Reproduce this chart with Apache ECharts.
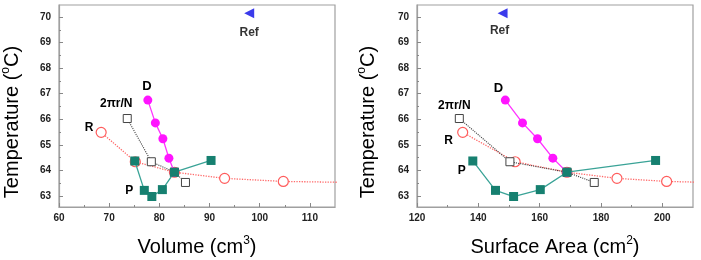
<!DOCTYPE html>
<html><head><meta charset="utf-8">
<script src="https://cdn.jsdelivr.net/npm/echarts@6/dist/echarts.min.js"></script>
<style>html,body{margin:0;padding:0;background:#fff}#c{width:701px;height:260px}</style>
</head><body><div id="c"></div>
<script>
// ---- data ----
const volTicks = [60, 70, 80, 90, 100, 110];
const volMinor = [65, 75, 85, 95, 105];
const areaTicks = [120, 140, 160, 180, 200];
const areaMinor = [130, 150, 170, 190];
const tempTicks = [63, 64, 65, 66, 67, 68, 69, 70];
const tempMinor = [63.5, 64.5, 65.5, 66.5, 67.5, 68.5, 69.5];

const refVol = [97.9];
const refArea = [147.9];
const refTemp = [70.15];

const dVol = [77.7, 79.2, 80.7, 81.9, 83.0];
const dArea = [148.8, 154.4, 159.3, 164.3, 168.9];
const dTemp = [66.75, 65.86, 65.24, 64.48, 63.93];

const pVol = [75.1, 77.0, 78.5, 80.6, 83.0, 90.3];
const pArea = [138.2, 145.6, 151.5, 160.2, 168.9, 197.8];
const pTemp = [64.37, 63.22, 62.98, 63.25, 63.93, 64.39];

const rVol = [68.4, 75.2, 83.0, 93.0, 104.7, 118];
const rArea = [134.9, 152.0, 168.9, 185.2, 201.4, 215];
const rTemp = [65.49, 64.34, 63.93, 63.69, 63.57, 63.53];

const nVol = [73.6, 78.4, 83.0, 85.2];
const nArea = [133.8, 150.3, 168.9, 177.8];
const nTemp = [66.03, 64.34, 63.93, 63.53];

// ---- build ----
const FONT = 'Liberation Sans, Arial, sans-serif';
const FRAME = '#a0a0a0';
function pts(xs, ys, li, txt, off, fs) {
  return xs.map((x, i) => {
    const d = { value: [x, ys[i]] };
    if (i === li) d.label = { show: true, formatter: txt, position: 'inside', offset: off,
      fontFamily: FONT, fontWeight: 'bold', fontSize: fs || 12, color: '#000',
      textBorderWidth: 0 };
    return d;
  });
}
function mainX(gi, min, max, ticks) {
  return { type: 'value', gridIndex: gi, min, max, splitLine: { show: false },
    axisLine: { lineStyle: { color: FRAME, width: 1.2 } },
    axisTick: { inside: true, length: 4, customValues: ticks, lineStyle: { color: '#888' } },
    axisLabel: { customValues: ticks, fontFamily: FONT, fontWeight: 'bold', fontSize: 10, color: '#222', margin: 6 } };
}
function minorX(gi, min, max, ticks) {
  return { type: 'value', gridIndex: gi, min, max, position: 'bottom', splitLine: { show: false },
    axisLine: { show: false },
    axisTick: { inside: true, length: 2, customValues: ticks, lineStyle: { color: '#888' } },
    axisLabel: { show: false } };
}
function mainY(gi) {
  return { type: 'value', gridIndex: gi, min: 62.57, max: 70.47, splitLine: { show: false },
    axisLine: { show: true, lineStyle: { color: FRAME, width: 1.2 } },
    axisTick: { show: true, inside: true, length: 4, customValues: tempTicks, lineStyle: { color: '#888' } },
    axisLabel: { customValues: tempTicks, fontFamily: FONT, fontWeight: 'bold', fontSize: 10, color: '#222', margin: 8 } };
}
function minorY(gi) {
  return { type: 'value', gridIndex: gi, min: 62.57, max: 70.47, position: 'left', splitLine: { show: false },
    axisLine: { show: false },
    axisTick: { show: true, inside: true, length: 2, customValues: tempMinor, lineStyle: { color: '#888' } },
    axisLabel: { show: false } };
}
function seriesFor(ax, xs) {
  const [ref, d, p, r, n, L] = xs;
  return [
    { type: 'line', xAxisIndex: ax, yAxisIndex: ax, data: pts(r, rTemp, 0, 'R', L.r), symbol: 'circle', symbolSize: 10,
      itemStyle: { color: '#fff', borderColor: '#ff5c5c', borderWidth: 1.2 },
      lineStyle: { color: '#ff6a6a', width: 1.3, type: 'dotted' }, z: 2, clip: true },
    { type: 'line', xAxisIndex: ax, yAxisIndex: ax, data: pts(n, nTemp, 0, '2\u03C0r/N', L.n), symbol: 'rect', symbolSize: 8,
      itemStyle: { color: '#fff', borderColor: '#444', borderWidth: 1 },
      lineStyle: { color: '#444', width: 1.1, type: 'dotted' }, z: 3 },
    { type: 'line', xAxisIndex: ax, yAxisIndex: ax, data: pts(d, dTemp, 0, 'D', L.d, 13), symbol: 'circle', symbolSize: 9,
      itemStyle: { color: '#ff14ff' }, lineStyle: { color: '#ff33ff', width: 1.3 }, z: 4 },
    { type: 'line', xAxisIndex: ax, yAxisIndex: ax, data: pts(p, pTemp, L.pi, 'P', L.p), symbol: 'rect', symbolSize: 9,
      itemStyle: { color: '#168070' }, lineStyle: { color: '#3aa397', width: 1.3 }, z: 5 },
    { type: 'scatter', xAxisIndex: ax, yAxisIndex: ax, data: pts(ref, refTemp, 0, 'Ref', L.ref), symbol: 'triangle',
      symbolRotate: 90, symbolSize: 10, itemStyle: { color: '#0a0ae6' }, z: 6 }
  ];
}
const sup = { fontSize: 12, fontFamily: FONT, color: '#3a3a3a', verticalAlign: 'top', lineHeight: 10 };
const big = { fontSize: 20, fontFamily: FONT, color: '#3a3a3a', lineHeight: 24 };
function title(x, y, rot, parts) {
  return { type: 'text', x, y, rotation: rot, z: 10,
    style: { text: parts, rich: { a: big, s: sup }, align: 'center', verticalAlign: 'middle' } };
}
const option = {
  animation: false,
  grid: [
    { left: 59, top: 5, width: 276, height: 202, show: true, borderColor: FRAME, borderWidth: 1.2, backgroundColor: 'transparent' },
    { left: 417, top: 5, width: 276, height: 202, show: true, borderColor: FRAME, borderWidth: 1.2, backgroundColor: 'transparent' }
  ],
  xAxis: [mainX(0, 60, 115, volTicks), mainX(1, 120, 210, areaTicks), minorX(0, 60, 115, volMinor), minorX(1, 120, 210, areaMinor)],
  yAxis: [mainY(0), mainY(1), minorY(0), minorY(1)],
  series: [
    ...seriesFor(0, [refVol, dVol, pVol, rVol, nVol,
      { ref: [0, 20], d: [-1, -14], n: [-11, -15], r: [-12, -5], p: [-15, 0], pi: 1 }]),
    ...seriesFor(1, [refArea, dArea, pArea, rArea, nArea,
      { ref: [-3, 18], d: [-7, -12], n: [-5, -13], r: [-14, 8], p: [-11, 10], pi: 0 }])
  ],
  graphic: [
    title(12, 122, Math.PI / 2, '{a|Temperature (}{s|o}{a|C)}'),
    title(368, 122, Math.PI / 2, '{a|Temperature (}{s|o}{a|C)}'),
    title(197, 247, 0, '{a|Volume (cm}{s|3}{a|)}'),
    title(555, 247, 0, '{a|Surface Area (cm}{s|2}{a|)}')
  ]
};
const chart = echarts.init(document.getElementById('c'), null, { renderer: 'canvas' });
chart.setOption(option);
</script></body></html>
